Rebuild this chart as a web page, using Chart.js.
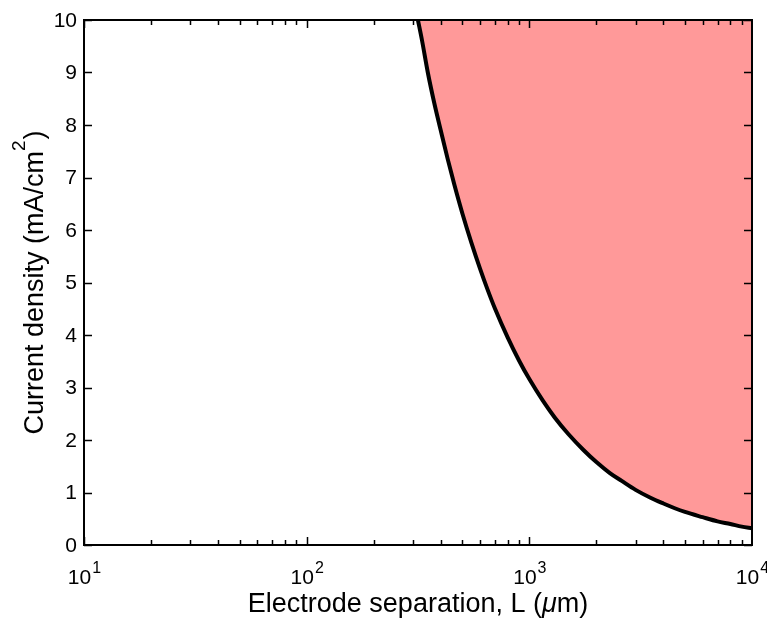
<!DOCTYPE html>
<html>
<head>
<meta charset="utf-8">
<script src="https://cdn.jsdelivr.net/npm/chart.js@4/dist/chart.umd.min.js"></script>
<style>
	body { margin: 0; background: #fff; }
	#caja { width: 767px; height: 619px; }
</style>
</head>
<body>
<div id="caja"><canvas id="grafica" width="767" height="619"></canvas></div>
<script>
// valores
var separacion = [316, 330, 350, 375, 400, 430, 460, 500, 550, 600, 650, 700, 800, 900, 1000, 1150, 1300, 1500, 1750, 2000, 2300, 2600, 3000, 3500, 4000, 4500, 5000, 6000, 7000, 8000, 9000, 10000];
var densidad   = [10, 9.6, 9.0, 8.4, 7.9, 7.35, 6.87, 6.32, 5.75, 5.27, 4.86, 4.51, 3.95, 3.51, 3.16, 2.75, 2.43, 2.11, 1.81, 1.58, 1.37, 1.22, 1.05, 0.9, 0.79, 0.7, 0.63, 0.53, 0.45, 0.4, 0.35, 0.32];
var ticksX = [10, 100, 1000, 10000];
var expX   = ['1', '2', '3', '4'];
var ticksY = [0, 1, 2, 3, 4, 5, 6, 7, 8, 9, 10];

var fuente = '"Liberation Sans", Arial, sans-serif';

// marco, marcas hacia dentro y textos con superindice
var ejes = {
	id: 'ejes',
	afterDatasetsDraw: function(chart){
		var ctx = chart.ctx, a = chart.chartArea;
		var x = chart.scales.x, y = chart.scales.y;
		ctx.save();
		ctx.strokeStyle = '#000';
		ctx.fillStyle = '#000';
		ctx.lineWidth = 2;
		ctx.strokeRect(a.left, a.top, a.right - a.left, a.bottom - a.top);

		ctx.lineWidth = 1.5;
		ctx.beginPath();
		// y
		ticksY.forEach(function(v){
			var py = Math.round(y.getPixelForValue(v)) + 0.5;
			ctx.moveTo(a.left, py); ctx.lineTo(a.left + 8, py);
			ctx.moveTo(a.right, py); ctx.lineTo(a.right - 8, py);
		});
		// x mayores y menores
		for (var d = 10; d < 10000; d *= 10) {
			for (var k = 1; k <= 9; k++) {
				var px = Math.round(x.getPixelForValue(d * k)) + 0.5;
				var largo = (k === 1) ? 8 : 5;
				ctx.moveTo(px, a.bottom); ctx.lineTo(px, a.bottom - largo);
				ctx.moveTo(px, a.top); ctx.lineTo(px, a.top + largo);
			}
		}
		ctx.stroke();

		// etiquetas y
		ctx.font = '21px ' + fuente;
		ctx.textAlign = 'right';
		ctx.textBaseline = 'middle';
		ticksY.forEach(function(v){
			ctx.fillText(String(v), a.left - 7, y.getPixelForValue(v) + 1);
		});

		// etiquetas x con exponente
		ctx.textAlign = 'left';
		ctx.textBaseline = 'alphabetic';
		ticksX.forEach(function(v, i){
			ctx.font = '21px ' + fuente;
			var w1 = ctx.measureText('10').width;
			ctx.font = '16px ' + fuente;
			var w2 = ctx.measureText(expX[i]).width;
			var x0 = x.getPixelForValue(v) - (w1 + w2) / 2;
			ctx.font = '21px ' + fuente;
			ctx.fillText('10', x0, a.bottom + 39);
			ctx.font = '16px ' + fuente;
			ctx.fillText(expX[i], x0 + w1 + 1, a.bottom + 28);
		});

		// titulo x
		var partes = [
			{t: 'Electrode separation, L (', f: '27px ' + fuente},
			{t: '\u03bc', f: 'italic 27px ' + fuente},
			{t: 'm)', f: '27px ' + fuente}
		];
		var total = 0;
		partes.forEach(function(p){ ctx.font = p.f; p.w = ctx.measureText(p.t).width; total += p.w; });
		var cx = (a.left + a.right) / 2 - total / 2;
		partes.forEach(function(p){ ctx.font = p.f; ctx.fillText(p.t, cx, 612); cx += p.w; });

		// titulo y
		ctx.translate(43, (a.top + a.bottom) / 2);
		ctx.rotate(-Math.PI / 2);
		var py1 = 'Current density (mA/cm', py2 = '2', py3 = ')';
		ctx.font = '27px ' + fuente;
		var wa = ctx.measureText(py1).width, wc = ctx.measureText(py3).width;
		ctx.font = '19px ' + fuente;
		var wb = ctx.measureText(py2).width;
		var sx = -(wa + wb + wc + 1) / 2;
		ctx.font = '27px ' + fuente;
		ctx.fillText(py1, sx, 0);
		ctx.font = '19px ' + fuente;
		ctx.fillText(py2, sx + wa, -18);
		ctx.font = '27px ' + fuente;
		ctx.fillText(py3, sx + wa + wb + 1, 0);
		ctx.restore();
	}
};

var puntos = separacion.map(function(v, i){ return {x: v, y: densidad[i]}; });

var myChart = new Chart(document.querySelector('#grafica'), {
	type: 'line',
	data: {
		datasets: [{
			data: puntos,
			borderColor: '#000',
			borderWidth: 4,
			backgroundColor: '#ff9999',
			fill: 'end',
			pointRadius: 0,
			cubicInterpolationMode: 'monotone'
		}]
	},
	options: {
		responsive: false,
		animation: false,
		devicePixelRatio: 1,
		layout: { padding: {left: 84, right: 15, top: 20, bottom: 74} },
		plugins: { legend: {display: false}, tooltip: {enabled: false} },
		scales: {
			x: { type: 'logarithmic', min: 10, max: 10000, display: false },
			y: { type: 'linear', min: 0, max: 10, display: false }
		}
	},
	plugins: [ejes]
});
</script>
</body>
</html>
